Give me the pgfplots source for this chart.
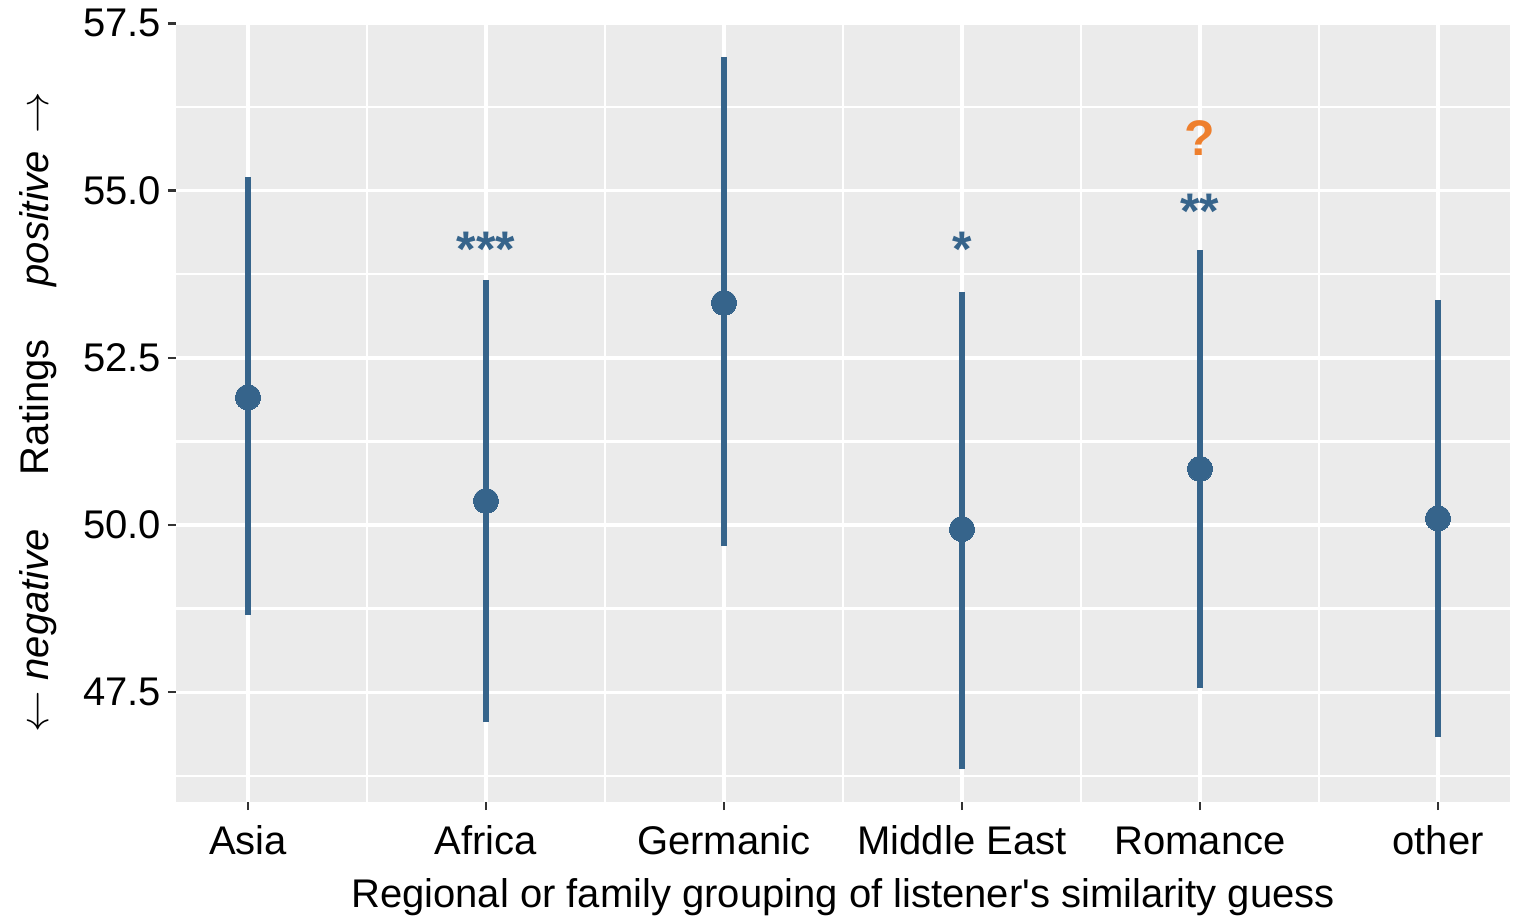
\documentclass[border=0pt]{standalone}
\usepackage{pgfplots}
\pgfplotsset{compat=1.18}
\usepackage{pgfplotstable}
\usepackage{fontspec}
\setmainfont{Liberation Sans}[Ligatures=TeXOff]
\definecolor{barc}{HTML}{36648B}
\definecolor{qcol}{HTML}{EE7F2D}
\definecolor{panel}{HTML}{EBEBEB}
\definecolor{tickc}{HTML}{333333}
\pgfplotstableread{
x mid lo hi
0 51.91 48.65 55.20
1 50.36 47.06 53.66
2 53.32 49.69 56.99
3 49.94 46.36 53.49
4 50.84 47.57 54.11
5 50.10 46.83 53.36
}\datatable
\newcommand{\lf}{\fontsize{20}{24}\selectfont}
\begin{document}
\begin{tikzpicture}
\useasboundingbox (0,0) rectangle (758.5pt,461.5pt);
\begin{axis}[
  at={(88pt,60.5pt)}, anchor=south west,
  scale only axis, width=667pt, height=389.5pt,
  xmin=-0.3025, xmax=5.3025, ymin=45.86, ymax=57.505,
  axis background/.style={fill=panel},
  axis line style={draw=none},
  xtick={0,...,5},
  xticklabels={Asia,Africa,Germanic,Middle East,Romance,other},
  ytick={47.5,50,52.5,55,57.5},
  yticklabels={47.5,50.0,52.5,55.0,57.5},
  minor xtick={0.5,1.5,2.5,3.5,4.5},
  minor ytick={46.25,48.75,51.25,53.75,56.25},
  grid=both,
  major grid style={white, line width=1.7pt},
  minor grid style={white, line width=1.2pt},
  tick align=outside, tick pos=left,
  major tick length=4pt, minor tick length=0pt,
  major tick style={tickc, line width=1.2pt},
  minor tick style={draw=none},
  ticklabel style={font=\lf, text=black},
  xticklabel style={text height=15pt, text depth=5pt, yshift=-3.5pt},
  clip=false,
]
\addplot[draw=none, mark=none, forget plot,
  error bars/.cd, y dir=both, y explicit, error mark=none,
  error bar style={line width=2.8pt, barc}]
  table[x=x, y=mid,
        y error plus expr=\thisrow{hi}-\thisrow{mid},
        y error minus expr=\thisrow{mid}-\thisrow{lo}] {\datatable};
\addplot[only marks, mark=*, mark size=6.3pt, color=barc,
  mark options={draw=barc, fill=barc, line width=0pt}] table[x=x, y=mid] {\datatable};
\node[anchor=base, text=barc, font=\fontsize{25}{30}\selectfont\bfseries, inner sep=0pt] at (axis cs:1,53.87) {***};
\node[anchor=base, text=barc, font=\fontsize{25}{30}\selectfont\bfseries, inner sep=0pt] at (axis cs:3,53.87) {*};
\node[anchor=base, text=barc, font=\fontsize{25}{30}\selectfont\bfseries, inner sep=0pt] at (axis cs:4,54.43) {**};
\node[anchor=base, text=qcol, font=\fontsize{25}{30}\selectfont\bfseries, inner sep=0pt] at (axis cs:4,55.53) {?};
\end{axis}
\node[anchor=base, font=\lf, inner sep=0pt] at (421.5pt,8pt) {Regional or family grouping of listener's similarity guess};
\node[rotate=90, anchor=base, font=\lf, inner sep=0pt] at (24pt,255.25pt) {$\leftarrow$ \textit{negative}\hspace{27pt}Ratings\hspace{26.5pt}\textit{positive}\hspace{3pt} $\rightarrow$};
\end{tikzpicture}
\end{document}
